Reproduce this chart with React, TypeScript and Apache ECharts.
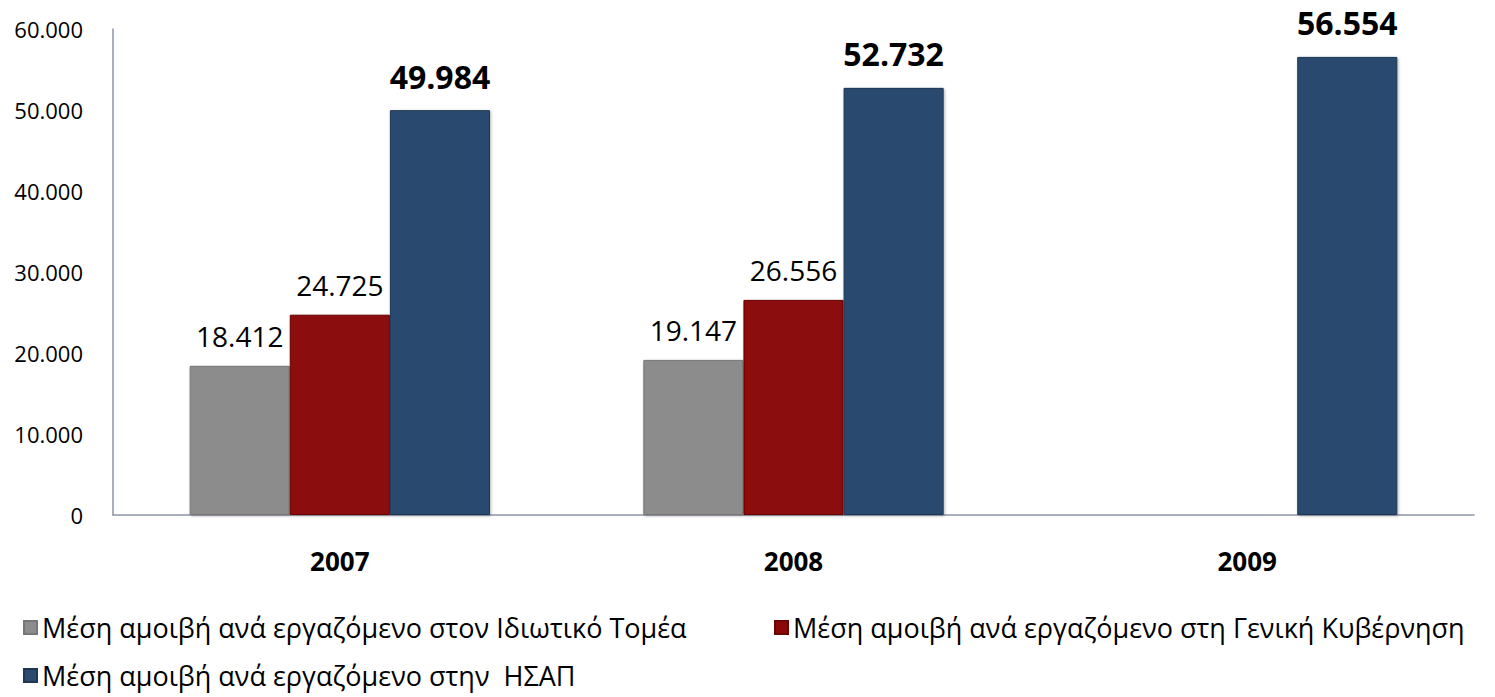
import React, { useEffect, useRef } from "react";
import * as echarts from "echarts";

const categories = ["2007", "2008", "2009"];
const seriesNames = [
  "Μέση αμοιβή ανά εργαζόμενο στον Ιδιωτικό Τομέα",
  "Μέση αμοιβή ανά εργαζόμενο στη Γενική Κυβέρνηση",
  "Μέση αμοιβή ανά εργαζόμενο στην  ΗΣΑΠ",
];
const privateSector = [18412, 19147, null];
const generalGov = [24725, 26556, null];
const isap = [49984, 52732, 56554];
const colors = ["#8c8c8c", "#8b0808", "#2c4a6e"];
const borderColors = ["#777777", "#6a0505", "#1f3655"];

const FONT = "'Open Sans', sans-serif";

function fmt(v: number): string {
  return String(Math.round(v)).replace(/\B(?=(\d{3})+(?!\d))/g, ".");
}

export default function App() {
  const ref = useRef<HTMLDivElement>(null);
  useEffect(() => {
    document.body.style.margin = "0";
    const chart = echarts.init(ref.current!, null, { renderer: "svg" });
    const datas = [privateSector, generalGov, isap];
    const legendText = { fontSize: 27, color: "#000", fontFamily: FONT };
    const legendPos = [
      { left: 18, top: 609 },
      { left: 769, top: 609 },
      { left: 18, top: 657 },
    ];
    chart.setOption({
      animation: false,
      textStyle: { fontFamily: FONT },
      grid: { left: 113, right: 21, top: 29, bottom: 182 },
      legend: seriesNames.map((n, i) => ({
        data: [n],
        left: legendPos[i].left,
        top: legendPos[i].top,
        itemWidth: 13,
        itemHeight: 13,
        textStyle: legendText,
        icon: "rect",
        selectedMode: false,
      })),
      xAxis: {
        type: "category",
        data: categories,
        axisLine: { lineStyle: { color: "#8d94a8", width: 1.5 } },
        axisTick: { show: false },
        axisLabel: { fontSize: 26, fontWeight: "bold", color: "#000", margin: 33, fontFamily: FONT },
      },
      yAxis: {
        type: "value",
        min: 0,
        max: 60000,
        interval: 10000,
        axisLine: { show: true, lineStyle: { color: "#8d94a8", width: 1.5 } },
        axisTick: { show: false },
        splitLine: { show: false },
        axisLabel: { fontSize: 22, color: "#000", margin: 30, fontFamily: FONT, formatter: (v: number) => fmt(v) },
      },
      series: datas.map((d, i) => ({
        type: "bar",
        name: seriesNames[i],
        data: d,
        barGap: "0%",
        barCategoryGap: "33.8%",
        itemStyle: {
          color: colors[i],
          borderColor: borderColors[i],
          borderWidth: 1,
          shadowColor: "rgba(0,0,0,0.3)",
          shadowBlur: 3,
          shadowOffsetX: 1,
          shadowOffsetY: 1,
        },
        label: {
          show: true,
          position: "top",
          distance: i === 2 ? 18 : 16,
          fontSize: i === 2 ? 32 : 28,
          fontWeight: i === 2 ? "bold" : "normal",
          color: "#000",
          fontFamily: FONT,
          formatter: (p: any) => fmt(p.value),
        },
      })),
    });
    return () => chart.dispose();
  }, []);
  return <div ref={ref} style={{ width: 1495, height: 697 }} />;
}
